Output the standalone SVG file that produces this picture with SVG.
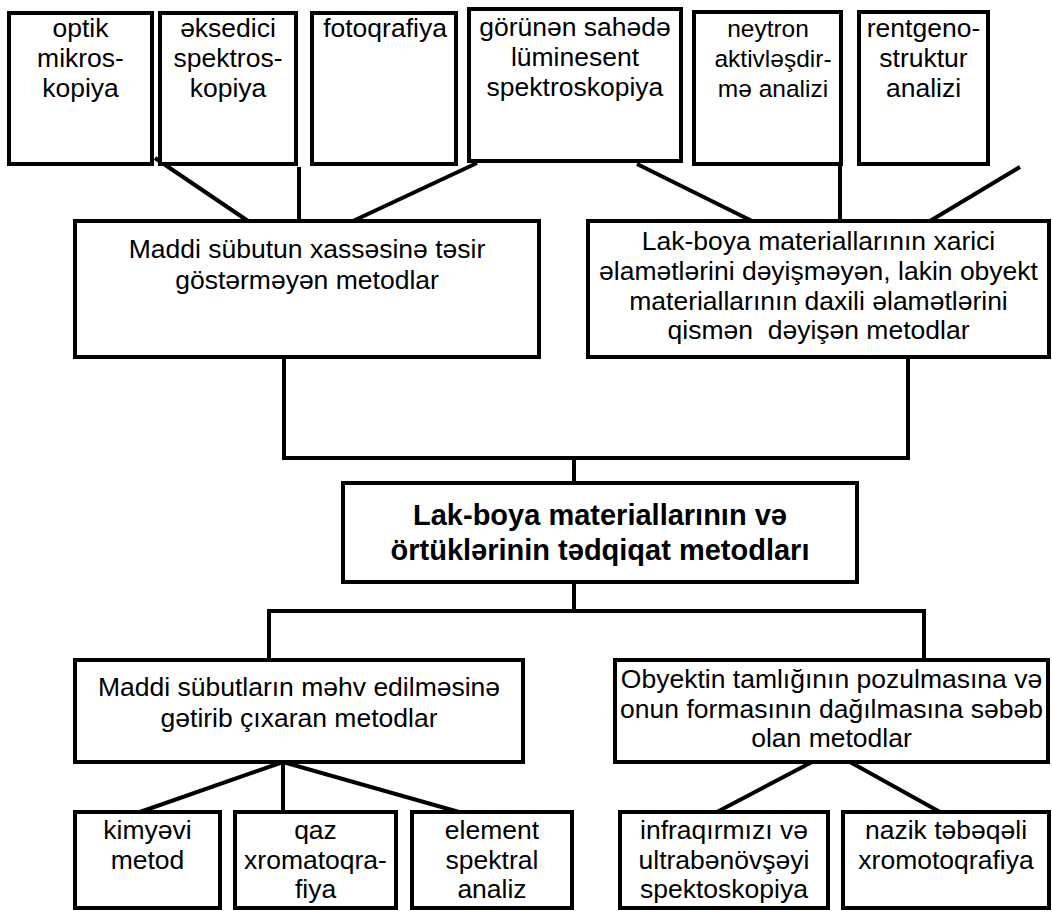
<svg xmlns="http://www.w3.org/2000/svg" width="1052" height="913" viewBox="0 0 1052 913">
<style>
.box{fill:#fff;stroke:#000;stroke-width:4}
.t{font-family:"Liberation Sans",Arial,sans-serif;font-size:26.5px;fill:#000;text-anchor:middle}
.s{font-size:24.5px}
.b{font-family:"Liberation Sans",Arial,sans-serif;font-size:29px;font-weight:bold;fill:#000;text-anchor:middle}
.c{stroke:#000;stroke-width:4;fill:none}
</style>
<rect width="1052" height="913" fill="#fff"/>
<g id="connectors">
<line class="c" x1="155" y1="158" x2="248" y2="221"/>
<line class="c" x1="299" y1="167" x2="299" y2="221"/>
<line class="c" x1="477" y1="163" x2="353" y2="221"/>
<line class="c" x1="637" y1="164" x2="752" y2="221"/>
<line class="c" x1="840" y1="166" x2="840" y2="221"/>
<line class="c" x1="1020" y1="167" x2="930" y2="221"/>
<polyline class="c" points="284,357 284,458 908,458 908,357"/>
<line class="c" x1="574" y1="458" x2="574" y2="483"/>
<line class="c" x1="574" y1="582" x2="574" y2="611"/>
<polyline class="c" points="269,660 269,611 924,611 924,660"/>
<line class="c" x1="283" y1="762" x2="140" y2="812"/>
<line class="c" x1="283" y1="762" x2="283" y2="812"/>
<line class="c" x1="283" y1="762" x2="459" y2="812"/>
<line class="c" x1="812" y1="762" x2="717" y2="812"/>
<line class="c" x1="850" y1="762" x2="940" y2="812"/>
</g>
<g id="n-optik">
<rect class="box" x="9" y="13" width="143" height="151"/>
<text class="t"><tspan x="80.5" y="37">optik</tspan><tspan x="80.5" y="67">mikros-</tspan><tspan x="80.5" y="97">kopiya</tspan></text>
</g>
<g id="n-aksedici">
<rect class="box" x="160" y="13" width="136" height="151"/>
<text class="t"><tspan x="228" y="37">əksedici</tspan><tspan x="228" y="67">spektros-</tspan><tspan x="228" y="97">kopiya</tspan></text>
</g>
<g id="n-foto">
<rect class="box" x="312" y="13" width="144" height="151"/>
<text class="t" x="385" y="37">fotoqrafiya</text>
</g>
<g id="n-gorunen">
<rect class="box" x="469" y="9" width="212" height="152"/>
<text class="t"><tspan x="575" y="36">görünən sahədə</tspan><tspan x="575" y="66">lüminesent</tspan><tspan x="575" y="96">spektroskopiya</tspan></text>
</g>
<g id="n-neytron">
<rect class="box" x="694" y="12" width="147" height="152"/>
<text class="t s"><tspan x="768" y="37">neytron</tspan><tspan x="773" y="67">aktivləşdir-</tspan><tspan x="773" y="97">mə analizi</tspan></text>
</g>
<g id="n-rentgeno">
<rect class="box" x="859" y="12" width="129" height="152"/>
<text class="t"><tspan x="923.5" y="37">rentgeno-</tspan><tspan x="923.5" y="67">struktur</tspan><tspan x="923.5" y="97">analizi</tspan></text>
</g>
<g id="n-toxunmayan">
<rect class="box" x="75" y="221" width="464" height="136"/>
<text class="t"><tspan x="307" y="258">Maddi sübutun xassəsinə təsir</tspan><tspan x="307" y="289">göstərməyən metodlar</tspan></text>
</g>
<g id="n-qismen">
<rect class="box" x="588" y="221" width="461" height="136"/>
<text class="t" style="white-space:pre"><tspan x="818.5" y="250">Lak-boya materiallarının xarici</tspan><tspan x="818.5" y="280">əlamətlərini dəyişməyən, lakin obyekt</tspan><tspan x="818.5" y="310">materiallarının daxili əlamətlərini</tspan><tspan x="818.5" y="339">qismən  dəyişən metodlar</tspan></text>
</g>
<g id="n-main">
<rect class="box" x="343" y="483" width="514" height="99"/>
<text class="b"><tspan x="600" y="525">Lak-boya materiallarının və</tspan><tspan x="600" y="560">örtüklərinin tədqiqat metodları</tspan></text>
</g>
<g id="n-mehv">
<rect class="box" x="75" y="660" width="448" height="102"/>
<text class="t"><tspan x="299" y="696">Maddi sübutların məhv edilməsinə</tspan><tspan x="299" y="727">gətirib çıxaran metodlar</tspan></text>
</g>
<g id="n-dagilma">
<rect class="box" x="615" y="660" width="433" height="102"/>
<text class="t"><tspan x="831.5" y="688">Obyektin tamlığının pozulmasına və</tspan><tspan x="831.5" y="718">onun formasının dağılmasına səbəb</tspan><tspan x="831.5" y="747">olan metodlar</tspan></text>
</g>
<g id="n-kimyevi">
<rect class="box" x="75" y="812" width="145" height="96"/>
<text class="t"><tspan x="147.5" y="839">kimyəvi</tspan><tspan x="147.5" y="869">metod</tspan></text>
</g>
<g id="n-qaz">
<rect class="box" x="235" y="812" width="161" height="96"/>
<text class="t"><tspan x="315.5" y="839">qaz</tspan><tspan x="315.5" y="869">xromatoqra-</tspan><tspan x="315.5" y="898">fiya</tspan></text>
</g>
<g id="n-element">
<rect class="box" x="412" y="812" width="160" height="96"/>
<text class="t"><tspan x="492" y="839">element</tspan><tspan x="492" y="869">spektral</tspan><tspan x="492" y="898">analiz</tspan></text>
</g>
<g id="n-infra">
<rect class="box" x="620" y="812" width="208" height="96"/>
<text class="t"><tspan x="724" y="839">infraqırmızı və</tspan><tspan x="724" y="869">ultrabənövşəyi</tspan><tspan x="724" y="898">spektoskopiya</tspan></text>
</g>
<g id="n-nazik">
<rect class="box" x="843" y="812" width="206" height="96"/>
<text class="t"><tspan x="946" y="839">nazik təbəqəli</tspan><tspan x="946" y="869">xromotoqrafiya</tspan></text>
</g>
</svg>
